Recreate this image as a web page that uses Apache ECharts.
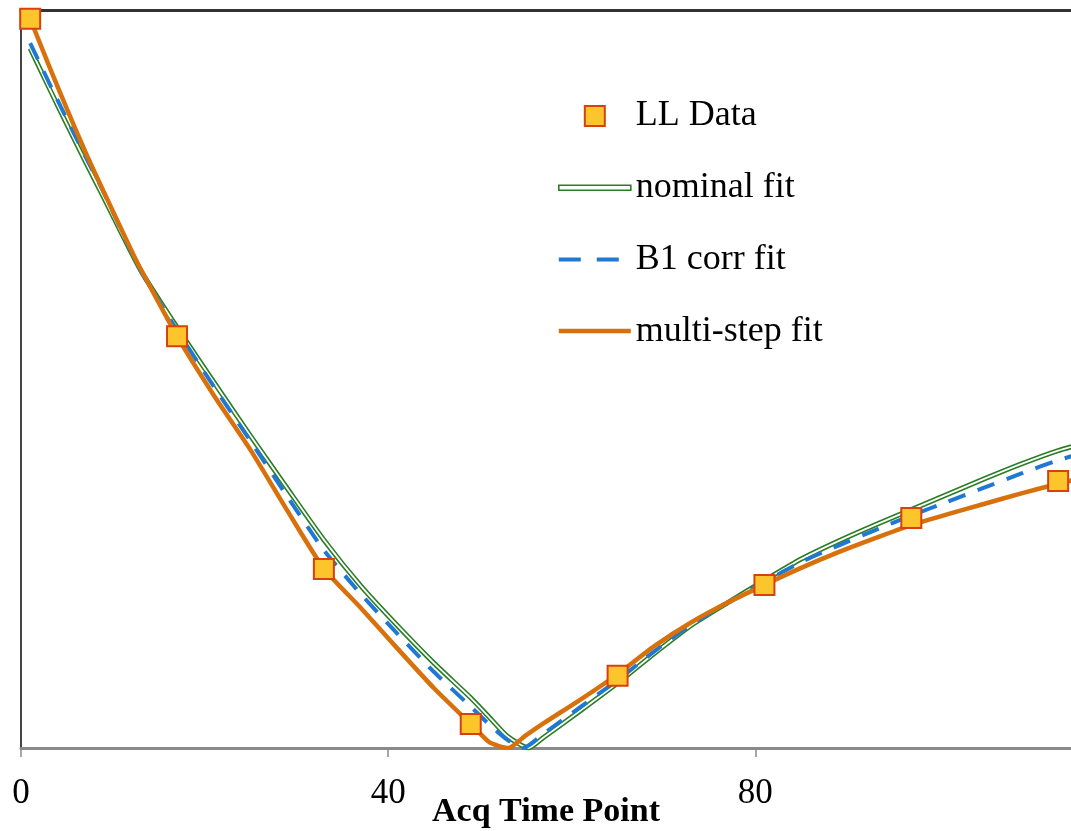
<!DOCTYPE html>
<html>
<head>
<meta charset="utf-8">
<script src="https://cdn.jsdelivr.net/npm/echarts@6/dist/echarts.min.js"></script>
<style>
  html, body { margin: 0; padding: 0; background: #ffffff; }
  #chart { width: 1071px; height: 831px; }
</style>
</head>
<body>
<div id="chart"></div>
<script>
// Look-Locker acquisition: measured points and three fitted recovery curves
const axisTicks = [0, 40, 80];

const llDataX = [1, 17, 33, 49, 65, 81, 97, 113];
const llDataY = [0.988, 0.558, 0.2425, 0.0325, 0.098, 0.221, 0.3117, 0.3618];

const nominalX = [1, 3, 5, 7, 9, 13, 17, 21, 25, 29, 33, 37, 41, 45, 49, 51, 53, 55.3, 57, 61, 65, 69, 73, 77, 81, 85, 89, 93, 97, 101, 105, 109, 113, 117];
const nominalY = [0.948, 0.896, 0.845, 0.795, 0.746, 0.648, 0.570, 0.496, 0.423, 0.352, 0.282, 0.220, 0.166, 0.115, 0.068, 0.042, 0.016, 0.0, 0.015, 0.051, 0.088, 0.128, 0.166, 0.197, 0.227, 0.256, 0.280, 0.302, 0.323, 0.344, 0.365, 0.385, 0.403, 0.417];

const b1CorrX = [1, 3, 5, 7, 9, 13, 17, 21, 25, 29, 33, 37, 41, 45, 49, 51, 53, 54.7, 57, 61, 65, 69, 73, 77, 81, 85, 89, 93, 97, 101, 105, 109, 113, 117];
const b1CorrY = [0.955, 0.903, 0.852, 0.802, 0.753, 0.648, 0.566, 0.490, 0.416, 0.341, 0.268, 0.209, 0.155, 0.103, 0.056, 0.032, 0.011, 0.0, 0.020, 0.056, 0.092, 0.131, 0.167, 0.197, 0.225, 0.252, 0.274, 0.295, 0.315, 0.334, 0.353, 0.372, 0.390, 0.404];

const multiStepX = [1, 3, 5, 7, 9, 12, 13, 17, 21, 25, 29, 33, 37, 41, 45, 49, 51, 52, 53.1, 55, 57, 61, 65, 69, 73, 77, 81, 85, 89, 93, 97, 101, 105, 109, 113, 117];
const multiStepY = [0.988, 0.926, 0.866, 0.808, 0.754, 0.675, 0.650, 0.558, 0.478, 0.404, 0.322, 0.243, 0.190, 0.135, 0.081, 0.0325, 0.008, 0.003, 0.0, 0.017, 0.034, 0.066, 0.100, 0.138, 0.170, 0.197, 0.221, 0.244, 0.265, 0.284, 0.302, 0.317, 0.331, 0.345, 0.358, 0.370];

const pairs = (xs, ys) => xs.map((x, i) => [x, ys[i]]);

const SERIF = '"Liberation Serif", "Times New Roman", serif';
const GREEN = '#2a7d24';
const BLUE = '#1f78d1';
const ORANGE = '#d8700c';
const X_MAX = 114.4;

const chart = echarts.init(document.getElementById('chart'), null, { renderer: 'canvas' });

chart.setOption({
  animation: false,
  backgroundColor: '#ffffff',
  grid: { left: 21, right: 0, top: 10, bottom: 83, containLabel: false, outerBoundsMode: 'none' },
  legend: {
    left: 558,
    top: 98,
    padding: 0,
    orient: 'vertical',
    itemWidth: 72,
    itemHeight: 20,
    itemGap: 35.7,
    selectedMode: false,
    textStyle: { fontFamily: SERIF, fontSize: 36, color: '#000', lineHeight: 34 },
    data: [
      { name: 'LL Data', icon: 'path://M0,0L10,0L10,10L0,10Z' },
      {
        name: 'nominal fit',
        icon: 'path://M0,0L72,0L72,5L0,5Z',
        itemStyle: { color: '#ffffff', borderColor: GREEN, borderWidth: 1.6 }
      },
      {
        name: 'B1 corr fit',
        icon: 'path://M0,0L22,0L22,4L0,4ZM38,0L60,0L60,4L38,4ZM72,0L72,4',
        itemStyle: { color: BLUE, borderWidth: 0 }
      },
      {
        name: 'multi-step fit',
        icon: 'path://M0,0L72,0L72,4.5L0,4.5Z',
        itemStyle: { color: ORANGE, borderWidth: 0 }
      }
    ]
  },
  xAxis: [
    {
      type: 'value',
      min: 0,
      max: X_MAX,
      interval: 40,
      position: 'bottom',
      name: 'Acq Time Point',
      nameLocation: 'middle',
      nameGap: 47,
      nameMoveOverlap: false,
      nameTextStyle: { fontFamily: SERIF, fontSize: 34, fontWeight: 'bold', color: '#000' },
      axisLine: { show: true, lineStyle: { color: '#8a8a8a', width: 3 } },
      axisTick: { show: true, length: 9, customValues: axisTicks, lineStyle: { color: '#8a8a8a', width: 1.5 } },
      axisLabel: {
        customValues: axisTicks,
        margin: 28,
        fontFamily: SERIF,
        fontSize: 35,
        color: '#000'
      },
      splitLine: { show: false }
    },
    {
      type: 'value',
      min: 0,
      max: X_MAX,
      position: 'top',
      axisLine: { show: true, lineStyle: { color: '#333333', width: 3 } },
      axisTick: { show: false },
      axisLabel: { show: false },
      splitLine: { show: false }
    }
  ],
  yAxis: {
    type: 'value',
    min: 0,
    max: 1,
    axisLine: { show: true, lineStyle: { color: '#444444', width: 2 } },
    axisTick: { show: false },
    axisLabel: { show: false },
    splitLine: { show: false }
  },
  series: [
    {
      name: 'nominal fit',
      type: 'line',
      data: pairs(nominalX, nominalY),
      symbol: 'none',
      smooth: 0.2,
      lineStyle: { color: GREEN, width: 5 },
      itemStyle: { color: GREEN },
      z: 2
    },
    {
      name: 'nominal fit inner',
      type: 'line',
      data: pairs(nominalX, nominalY),
      symbol: 'none',
      smooth: 0.2,
      lineStyle: { color: '#ffffff', width: 1.8 },
      z: 3
    },
    {
      name: 'B1 corr fit',
      type: 'line',
      data: pairs(b1CorrX, b1CorrY),
      symbol: 'none',
      smooth: 0.2,
      lineStyle: { color: BLUE, width: 4, type: [18, 13] },
      itemStyle: { color: BLUE },
      z: 4
    },
    {
      name: 'multi-step fit',
      type: 'line',
      data: pairs(multiStepX, multiStepY),
      symbol: 'none',
      smooth: 0.2,
      lineStyle: { color: ORANGE, width: 4.5, cap: 'round' },
      itemStyle: { color: ORANGE },
      z: 5
    },
    {
      name: 'LL Data',
      type: 'scatter',
      data: pairs(llDataX, llDataY),
      symbol: 'rect',
      symbolSize: 20,
      itemStyle: { color: '#fcc52c', borderColor: '#d8400e', borderWidth: 2, opacity: 1 },
      z: 6
    }
  ]
});
</script>
</body>
</html>
